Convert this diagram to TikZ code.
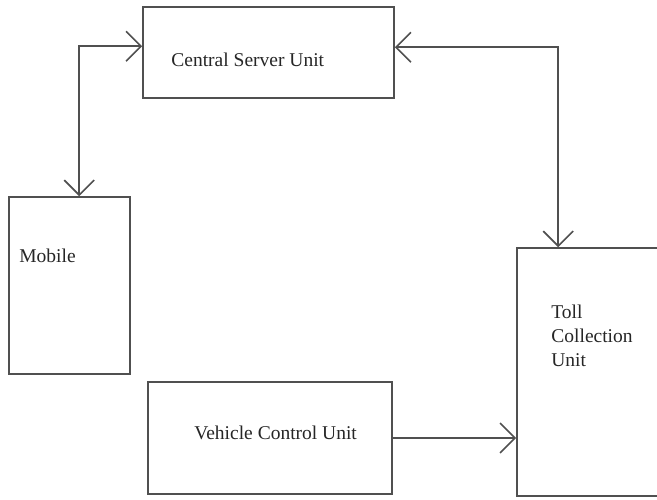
\documentclass[tikz,border=0pt]{standalone}
\usepackage{fontspec}
\setmainfont{Liberation Serif}
\usetikzlibrary{positioning,arrows.meta,calc}
\definecolor{linegray}{HTML}{505050}

\begin{document}
\begin{tikzpicture}[
  x=1pt, y=-1pt,
  unit/.style={rectangle, draw=linegray, line width=1.6pt, inner sep=0pt},
  link/.style={draw=linegray, line width=1.6pt,
    arrows={Straight Barb[length=15pt, width=30pt]-Straight Barb[length=15pt, width=30pt]}},
  txt/.style={inner sep=0pt, font=\fontsize{19.5}{24}\selectfont, text=black!85}
]
  \useasboundingbox (0,0) rectangle (657,499);
  \clip (0,0) rectangle (657,499);

  % Units
  \node[unit, minimum width=251pt, minimum height=91pt] (csu) at (268.5, 52.5) {};
  \node[unit, minimum width=121pt, minimum height=177pt] (mob) at (69.5, 285.5) {};
  \node[unit, minimum width=183pt, minimum height=248pt] (tcu) at (608.5, 372) {};
  \node[unit, minimum width=244pt, minimum height=112pt] (vcu) at (270, 438) {};

  % Labels
  \node[txt, anchor=base west] (csutxt) at ($(csu.north west)+(29,60)$) {Central Server Unit};
  \node[txt, anchor=base west] (mobtxt) at ($(mob.north west)+(11,66)$) {Mobile};
  \node[txt, anchor=north west, align=left] (tcutxt) at ($(tcu.north west)+(35,58)$) {Toll\\Collection\\Unit};
  \node[txt, anchor=base west] (vcutxt) at ($(vcu.north west)+(47,58)$) {Vehicle Control Unit};

  % Mobile <-> central server
  \coordinate (mobin) at ($(mob.north west)+(71,0)$);
  \coordinate (csuinl) at ($(csu.north west)+(0,40)$);
  \draw[link] (mobin) |- (csuinl);

  % Central server <-> toll collection
  \coordinate (csuinr) at ($(csu.north east)+(0,41)$);
  \coordinate (tcuin) at ($(tcu.north west)+(42,0)$);
  \draw[link] (csuinr) -| (tcuin);

  % Vehicle control -> toll collection
  \draw[link, arrows={-Straight Barb[length=15pt, width=30pt]}] (vcu.east) -- (vcu.east -| tcu.west);
\end{tikzpicture}
\end{document}
